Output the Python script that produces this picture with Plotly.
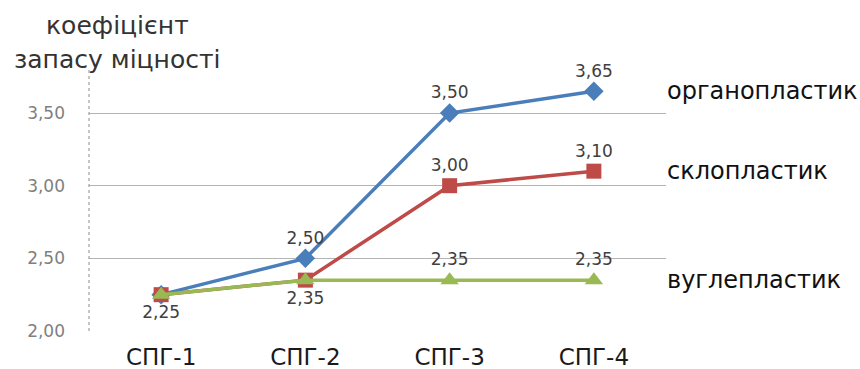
import plotly.graph_objects as go

# Categories and series values
categories = ["СПГ-1", "СПГ-2", "СПГ-3", "СПГ-4"]
organo = [2.25, 2.50, 3.50, 3.65]
sklo = [2.25, 2.35, 3.00, 3.10]
vugle = [2.25, 2.35, 2.35, 2.35]
series_names = ["органопластик", "склопластик", "вуглепластик"]
y_ticks = [2.00, 2.50, 3.00, 3.50]

# Which points carry a value label
organo_show = [False, True, True, True]
sklo_show = [False, False, True, True]
vugle_show = [True, True, True, True]
vugle_pos = ["bottom center", "bottom center", "top center", "top center"]


def labels(values, show):
    return [f"{v:.2f}".replace(".", ",") if s else "" for v, s in zip(values, show)]


W, H = 860, 369
L, R, T, B = 89, 194, 68, 38
plot_w = W - L - R
plot_h = H - T - B

label_font = dict(family="DejaVu Sans", size=17, color="#404040")

fig = go.Figure()
fig.add_trace(go.Scatter(
    x=categories, y=organo, mode="lines+markers+text",
    line=dict(color="#4A7EBB", width=3.5),
    marker=dict(symbol="diamond", size=15, color="#4A7EBB"),
    text=labels(organo, organo_show), textposition="top center",
    textfont=label_font, name=series_names[0], cliponaxis=False,
))
fig.add_trace(go.Scatter(
    x=categories, y=sklo, mode="lines+markers+text",
    line=dict(color="#BE4B48", width=3.5),
    marker=dict(symbol="square", size=15, color="#BE4B48"),
    text=labels(sklo, sklo_show), textposition="top center",
    textfont=label_font, name=series_names[1], cliponaxis=False,
))
fig.add_trace(go.Scatter(
    x=categories, y=vugle, mode="lines+markers+text",
    line=dict(color="#98B954", width=3.5),
    marker=dict(symbol="triangle-up", size=16, color="#98B954"),
    text=labels(vugle, vugle_show), textposition=vugle_pos,
    textfont=label_font, name=series_names[2], cliponaxis=False,
))

# Series names to the right of the last points
for name, vals in zip(series_names, [organo, sklo, vugle]):
    fig.add_annotation(
        x=1.0, xref="paper", y=vals[-1], yref="y",
        text=name, showarrow=False, xanchor="left", yanchor="middle",
        xshift=-1, font=dict(family="DejaVu Sans", size=24, color="#111111"),
    )

# Axis title in two lines above the value axis
title_font = dict(family="DejaVu Sans", size=25, color="#333333")
for line_text, cy in [("коефіцієнт", 25), ("запасу міцності", 60)]:
    fig.add_annotation(
        x=(117 - L) / plot_w, xref="paper", xanchor="center",
        y=1 + (T - cy) / plot_h, yref="paper", yanchor="middle",
        text=line_text, showarrow=False, font=title_font,
    )

# Dotted value-axis line
fig.add_shape(type="line", xref="paper", yref="paper", x0=0, x1=0, y0=0, y1=1,
              line=dict(color="#8C8C8C", width=1, dash="dot"))

fig.update_layout(
    width=W, height=H,
    margin=dict(l=L, r=R, t=T, b=B, autoexpand=False),
    paper_bgcolor="white", plot_bgcolor="white",
    showlegend=False, separators=", ",
    xaxis=dict(
        range=[-0.5, 3.5], showgrid=False, zeroline=False, showline=False,
        ticks="", tickfont=dict(family="DejaVu Sans", size=23, color="#1a1a1a"),
        ticklabelstandoff=10, automargin=False,
    ),
    yaxis=dict(
        range=[2.0, 3.81], tickvals=y_ticks, tickformat=".2f",
        showgrid=True, gridcolor="#B4B4B4", gridwidth=1,
        zeroline=False, showline=False, ticks="",
        tickfont=dict(family="DejaVu Sans", size=17, color="#7F7F7F"),
        ticklabelstandoff=23, automargin=False,
    ),
)

fig.write_html("out.html")
